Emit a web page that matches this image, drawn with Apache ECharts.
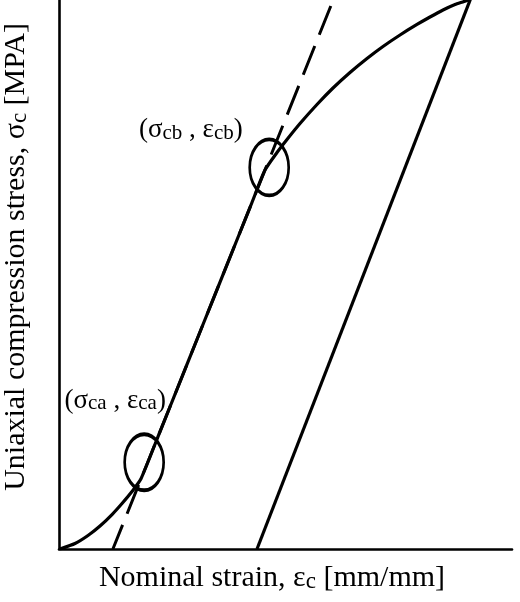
<!DOCTYPE html>
<html>
<head>
<meta charset="utf-8">
<script src="https://cdn.jsdelivr.net/npm/echarts@6/dist/echarts.min.js"></script>
<style>
html,body{margin:0;padding:0;background:#fff;}
#chart{width:520px;height:602px;}
</style>
</head>
<body>
<div id="chart"></div>
<script>
// Loading curve: [nominal strain, stress] (arbitrary units, 0-100)
const loadingCurve = [
  [0.2,0],[3.53,1.00],[6.40,2.46],[9.05,4.19],[11.70,6.28],[13.91,8.29],
  [16.11,10.47],[18.10,12.80],[22.08,20.93],[26.93,30.90],[30.46,38.16],
  [34.00,45.44],[39.74,57.24],[42.60,63.12],[45.47,69.02],
  [48.12,72.22],[50.33,74.59],[53.20,77.50],[56.95,80.97],[60.49,83.97],
  [64.24,86.79],[67.99,89.34],[71.52,91.53],[75.28,93.62],[79.03,95.54],
  [81.90,96.90],[84.77,98.18],[87.42,99.18],[89.40,99.73],[90.84,100.18]
];
// Dashed tangent (linear elastic extension), drawn top to bottom
const tangentLine = [[60.0,98.9],[11.9,0]];
// Unloading line
const unloadingLine = [[43.71,0],[90.84,100.18]];
// Marked points (ellipses)
const markedPoints = [[18.8,15.8],[46.4,69.5]];
// Annotation positions and subscripts
const labelPositions = [[12.4,27.2],[29.1,76.5]];
const labelSubscripts = ['ca','cb'];
// Axis titles
const xAxisTitle = ['Nominal strain, ε','c',' [mm/mm]'];
const yAxisTitle = ['Uniaxial compression stress, σ','c',' [MPA]'];

const FONT = '"Liberation Serif","Times New Roman",serif';
const richTitle = {
  t:{fontFamily:FONT,fontSize:30,color:'#000',lineHeight:31,verticalAlign:'bottom'},
  s:{fontFamily:FONT,fontSize:23,color:'#000',lineHeight:21,verticalAlign:'bottom'}
};
const richLabel = {
  m:{fontFamily:FONT,fontSize:27,color:'#000',lineHeight:29,verticalAlign:'bottom'},
  s:{fontFamily:FONT,fontSize:21,color:'#000',lineHeight:19,verticalAlign:'bottom'}
};
function richName(p){return '{t|'+p[0]+'}{s|'+p[1]+'}{t|'+p[2]+'}';}

const chart = echarts.init(document.getElementById('chart'), null, {renderer:'canvas'});
chart.setOption({
  animation:false,
  backgroundColor:'#fff',
  grid:{left:59,right:8,top:0,bottom:53,containLabel:false,outerBoundsMode:'none'},
  xAxis:{
    type:'value',min:0,max:100,
    name:richName(xAxisTitle),nameLocation:'middle',nameGap:13,
    nameTextStyle:{rich:richTitle,padding:[0,27,0,0]},
    axisLine:{show:true,onZero:false,lineStyle:{color:'#000',width:2.6}},
    axisTick:{show:false},axisLabel:{show:false},splitLine:{show:false}
  },
  yAxis:{
    type:'value',min:0,max:100,
    name:richName(yAxisTitle),nameLocation:'middle',nameGap:28,
    nameTextStyle:{rich:richTitle,padding:[0,0,0,35]},
    axisLine:{show:true,onZero:false,lineStyle:{color:'#000',width:2.6}},
    axisTick:{show:false},axisLabel:{show:false},splitLine:{show:false}
  },
  series:[
    {
      name:'tangent',type:'line',data:tangentLine,showSymbol:false,silent:true,
      lineStyle:{color:'#000',width:3,type:[31,12]}
    },
    {
      name:'loading',type:'line',data:loadingCurve,showSymbol:false,smooth:0.2,silent:true,
      lineStyle:{color:'#000',width:3.2}
    },
    {
      name:'unloading',type:'line',data:unloadingLine,showSymbol:false,silent:true,
      lineStyle:{color:'#000',width:3.2}
    },
    {
      name:'points',type:'scatter',data:markedPoints,symbol:'circle',symbolSize:[39,56],silent:true,
      itemStyle:{color:'rgba(0,0,0,0)',borderColor:'#000',borderWidth:3.2,opacity:1}
    },
    {
      name:'labels',type:'scatter',silent:true,symbolSize:1,
      itemStyle:{color:'rgba(0,0,0,0)',opacity:1},
      data:labelPositions.map((p,i)=>({value:p,name:labelSubscripts[i]})),
      label:{
        show:true,position:'inside',color:'#000',
        formatter:function(pr){const s=pr.name;return '{m|(σ}{s|'+s+'}{m| , ε}{s|'+s+'}{m|)}';},
        rich:richLabel
      }
    }
  ]
});
</script>
</body>
</html>
